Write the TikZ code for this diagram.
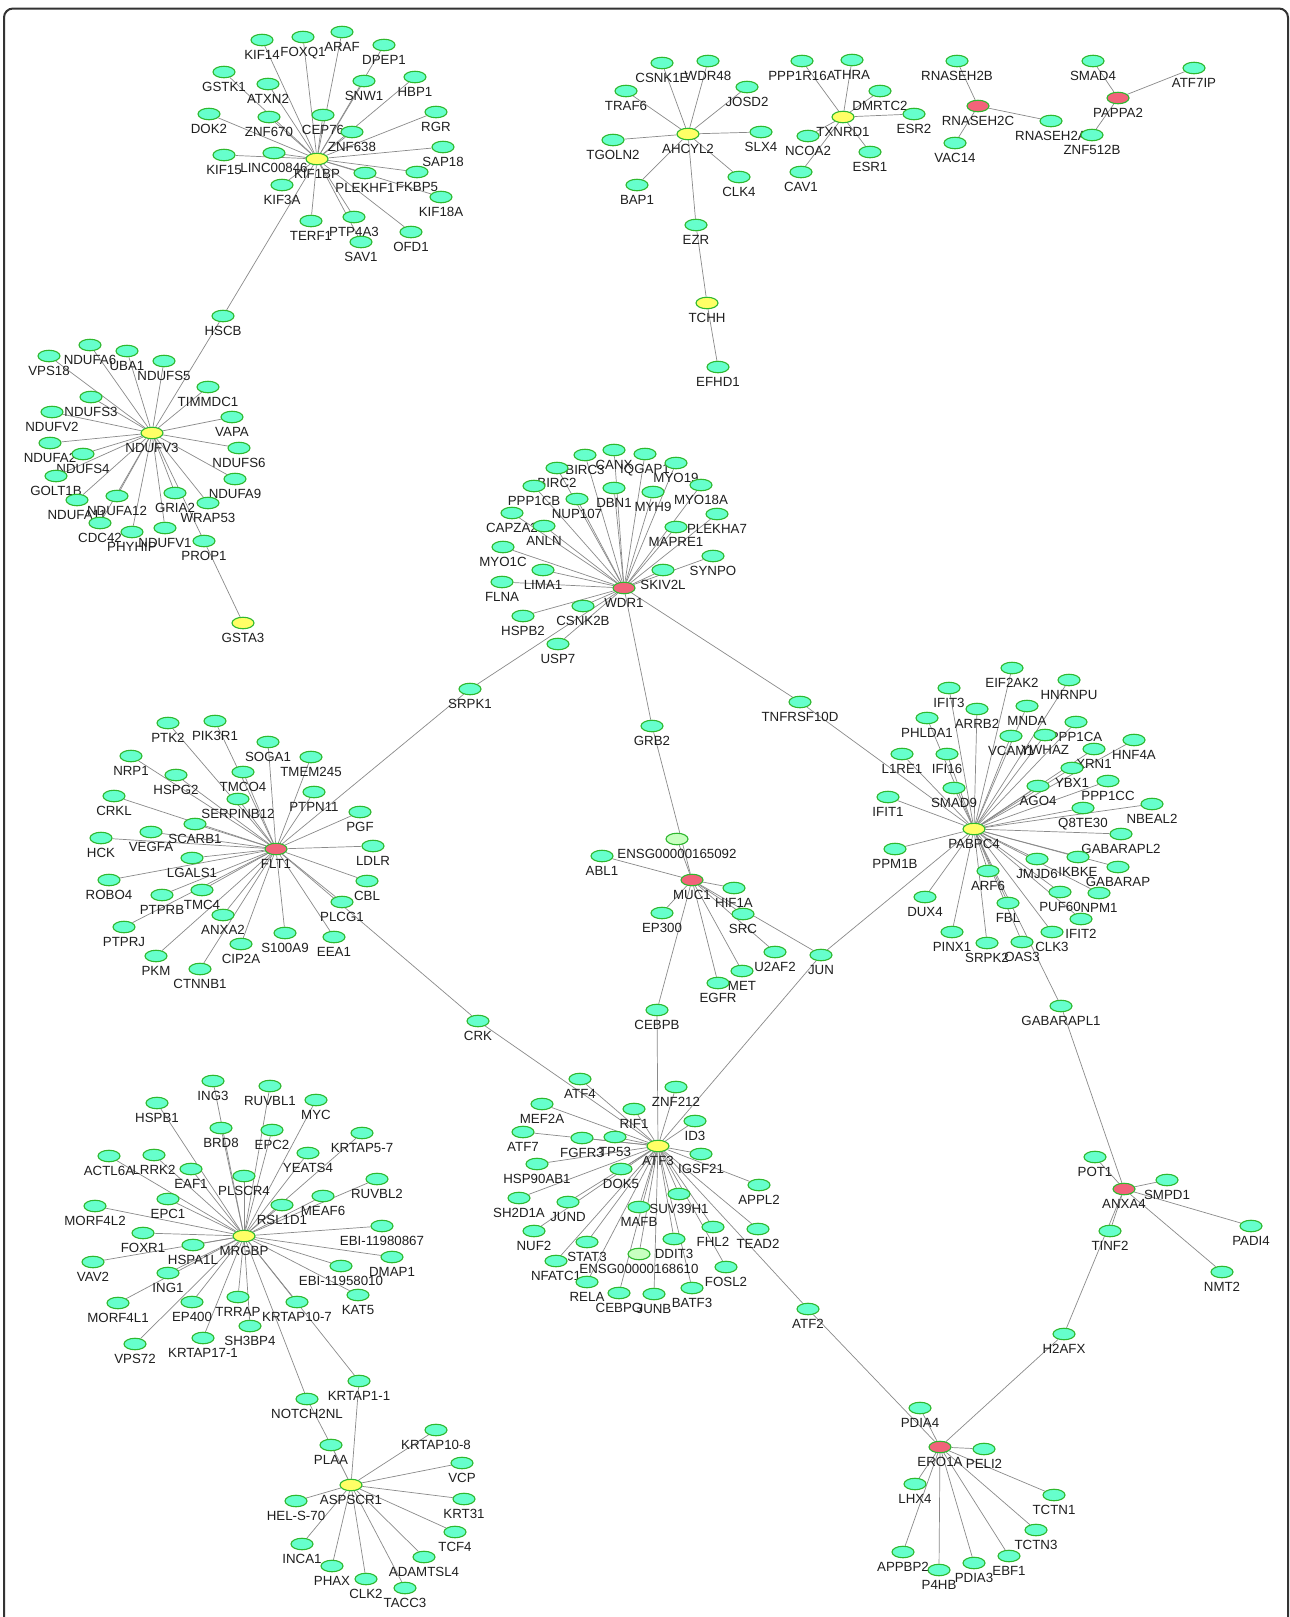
\documentclass[tikz,border=0pt]{standalone}
\usepackage{fontspec}
\setmainfont{Liberation Sans}
\usetikzlibrary{shapes.geometric}
\pgfdeclarelayer{bg}
\pgfsetlayers{bg,main}
\definecolor{gfill}{HTML}{66FFCC}
\definecolor{yfill}{HTML}{FFFF66}
\definecolor{rfill}{HTML}{F2637A}
\definecolor{lfill}{HTML}{C8FFC0}
\definecolor{nborder}{HTML}{2EB82E}
\definecolor{edgec}{HTML}{8A8A8A}
\tikzset{
  gnode/.style={ellipse, draw=nborder, fill=gfill, line width=1.1pt, minimum width=22pt, minimum height=11.5pt, inner sep=0pt},
  ynode/.style={gnode, fill=yfill},
  rnode/.style={gnode, fill=rfill},
  lnode/.style={gnode, fill=lfill},
  lbl/.style={anchor=base, inner sep=0pt, font=\fontsize{13.3}{15}\selectfont, text=black!88},
  edge/.style={draw=edgec, line width=0.7pt}
}
\newcommand{\gn}[4]{\node[#1] (#2) at (#3,#4) {}; \node[lbl] (#2-l) at (#3,#4+19.5) {#2};}
\begin{document}
\begin{tikzpicture}[x=1pt,y=-1pt]
\useasboundingbox (0,0) rectangle (1290,1617);

% hubs
\foreach \n/\x/\y in {KIF1BP/317/159, NDUFV3/152/433, GSTA3/243/623, AHCYL2/688/134, TCHH/707/303, TXNRD1/843/117, PABPC4/974/829, ATF3/658/1146, MRGBP/244/1236, ASPSCR1/351/1485}
  {\gn{ynode}{\n}{\x}{\y}}
\foreach \n/\x/\y in {RNASEH2C/978/106, PAPPA2/1118/98, WDR1/624/588, FLT1/276/849, MUC1/692/880, ANXA4/1124/1189, ERO1A/940/1447}
  {\gn{rnode}{\n}{\x}{\y}}
\foreach \n/\x/\y in {ENSG00000165092/677/839, ENSG00000168610/639/1254}
  {\gn{lnode}{\n}{\x}{\y}}

% KIF1BP cluster
\foreach \n/\x/\y in {KIF14/262/40, FOXQ1/303/37, ARAF/342/32, DPEP1/384/45, GSTK1/224/72, ATXN2/268/84, SNW1/364/81, HBP1/415/77, DOK2/209/114, ZNF670/269/117, CEP76/323/115, ZNF638/352/132, RGR/436/112, KIF15/224/155, LINC00846/274/153, SAP18/443/147, PLEKHF1/365/173, FKBP5/417/172, KIF18A/441/197, KIF3A/282/185, TERF1/311/221, PTP4A3/354/217, OFD1/411/232, SAV1/361/242, HSCB/223/316}
  {\gn{gnode}{\n}{\x}{\y}}
% NDUFV3 cluster
\foreach \n/\x/\y in {VPS18/49/356, NDUFA6/90/345, UBA1/127/351, NDUFS5/164/361, TIMMDC1/208/387, NDUFS3/91/397, NDUFV2/52/412, VAPA/232/417, NDUFA2/50/443, NDUFS4/83/454, NDUFS6/239/448, GOLT1B/56/476, NDUFA9/235/479, NDUFA11/77/500, NDUFA12/117/496, GRIA2/175/493, WRAP53/208/503, CDC42/100/523, PHYHIP/132/532, NDUFV1/165/528, PROP1/204/541}
  {\gn{gnode}{\n}{\x}{\y}}
% AHCYL2, TXNRD1, RNASEH2C, PAPPA2
\foreach \n/\x/\y in {CSNK1E/662/63, WDR48/708/61, JOSD2/747/87, TRAF6/626/91, TGOLN2/613/140, SLX4/761/132, BAP1/637/185, CLK4/739/177, EZR/696/225, EFHD1/718/367, PPP1R16A/802/61, THRA/852/60, DMRTC2/880/91, ESR2/914/114, NCOA2/808/136, ESR1/870/152, CAV1/801/172, RNASEH2B/957/61, VAC14/955/143, RNASEH2A/1051/121, SMAD4/1093/61, ATF7IP/1194/68, ZNF512B/1092/135}
  {\gn{gnode}{\n}{\x}{\y}}
% WDR1 cluster
\foreach \n/\x/\y in {CANX/614/450, BIRC3/585/455, IQGAP1/645/454, MYO19/676/463, BIRC2/557/468, MYO18A/701/485, PPP1CB/534/486, DBN1/614/488, MYH9/653/492, NUP107/577/499, PLEKHA7/717/514, CAPZA2/512/513, ANLN/544/526, MAPRE1/676/527, MYO1C/503/547, SYNPO/713/556, LIMA1/543/570, SKIV2L/663/570, FLNA/502/582, CSNK2B/583/606, HSPB2/523/616, USP7/558/644, SRPK1/470/689, GRB2/652/726, TNFRSF10D/800/702}
  {\gn{gnode}{\n}{\x}{\y}}
% FLT1 cluster
\foreach \n/\x/\y in {PTK2/168/723, PIK3R1/215/721, SOGA1/268/742, TMEM245/311/757, NRP1/131/756, HSPG2/176/775, TMCO4/243/772, PTPN11/314/792, CRKL/114/796, SERPINB12/238/799, PGF/360/812, SCARB1/195/824, HCK/101/838, VEGFA/151/832, LDLR/373/846, LGALS1/192/858, ROBO4/109/880, CBL/367/881, PTPRB/162/895, TMC4/202/890, PLCG1/342/902, ANXA2/223/915, PTPRJ/124/927, S100A9/285/933, EEA1/334/937, CIP2A/241/944, PKM/156/956, CTNNB1/200/969, CRK/478/1021}
  {\gn{gnode}{\n}{\x}{\y}}
% MUC1 cluster
\foreach \n/\x/\y in {ABL1/602/856, HIF1A/734/888, EP300/662/913, SRC/743/914, U2AF2/775/952, JUN/821/955, MET/742/971, EGFR/718/983, CEBPB/657/1010}
  {\gn{gnode}{\n}{\x}{\y}}
% PABPC4 cluster
\foreach \n/\x/\y in {EIF2AK2/1012/668, HNRNPU/1069/680, IFIT3/949/688, ARRB2/977/709, MNDA/1027/706, PHLDA1/927/718, PPP1CA/1076/722, VCAM1/1011/736, YWHAZ/1045/735, HNF4A/1134/740, XRN1/1094/749, L1RE1/902/754, IFI16/947/754, YBX1/1072/768, PPP1CC/1108/781, AGO4/1038/786, SMAD9/954/788, IFIT1/888/797, NBEAL2/1152/804, Q8TE30/1083/808, GABARAPL2/1121/834, PPM1B/895/849, IKBKE/1078/857, JMJD6/1037/859, GABARAP/1118/867, ARF6/988/871, DUX4/925/897, PUF60/1060/892, NPM1/1099/893, FBL/1008/903, IFIT2/1081/919, PINX1/952/932, CLK3/1052/932, SRPK2/987/943, OAS3/1022/942, GABARAPL1/1061/1006}
  {\gn{gnode}{\n}{\x}{\y}}
% ANXA4, ERO1A
\foreach \n/\x/\y in {POT1/1095/1157, SMPD1/1167/1180, PADI4/1251/1226, NMT2/1222/1272, TINF2/1110/1231, H2AFX/1064/1334, PDIA4/920/1408, PELI2/984/1449, LHX4/915/1484, TCTN1/1054/1495, TCTN3/1036/1530, APPBP2/903/1552, EBF1/1009/1556, PDIA3/974/1563, P4HB/939/1570}
  {\gn{gnode}{\n}{\x}{\y}}
% ATF3 cluster
\foreach \n/\x/\y in {ATF4/580/1079, ZNF212/676/1087, MEF2A/542/1104, RIF1/634/1109, ID3/695/1121, ATF7/523/1132, FGFR3/582/1138, TP53/615/1137, IGSF21/701/1154, HSP90AB1/537/1164, DOK5/621/1169, APPL2/759/1185, SH2D1A/519/1198, JUND/568/1202, SUV39H1/679/1194, MAFB/639/1207, NUF2/534/1231, STAT3/587/1242, FHL2/713/1227, TEAD2/758/1229, DDIT3/674/1239, NFATC1/556/1261, FOSL2/726/1267, RELA/587/1282, CEBPG/619/1293, JUNB/654/1294, BATF3/692/1288, ATF2/808/1309}
  {\gn{gnode}{\n}{\x}{\y}}
% MRGBP cluster
\foreach \n/\x/\y in {ING3/213/1081, RUVBL1/270/1086, MYC/316/1100, HSPB1/157/1103, BRD8/221/1128, EPC2/272/1130, KRTAP5-7/362/1133, YEATS4/308/1153, ACTL6A/109/1156, LRRK2/154/1155, EAF1/191/1169, PLSCR4/244/1176, RUVBL2/377/1179, MEAF6/323/1196, RSL1D1/282/1205, EPC1/168/1199, MORF4L2/95/1206, FOXR1/143/1233, HSPA1L/193/1245, VAV2/93/1262, ING1/168/1273, EBI-11980867/382/1226, DMAP1/392/1257, EBI-11958010/341/1266, KAT5/358/1295, MORF4L1/118/1303, EP400/192/1302, TRRAP/238/1297, KRTAP10-7/297/1302, SH3BP4/250/1326, KRTAP17-1/203/1338, VPS72/135/1344, KRTAP1-1/359/1381, NOTCH2NL/307/1399}
  {\gn{gnode}{\n}{\x}{\y}}
% ASPSCR1 cluster
\foreach \n/\x/\y in {PLAA/331/1445, KRTAP10-8/436/1430, VCP/462/1463, KRT31/464/1499, TCF4/455/1532, ADAMTSL4/424/1557, HEL-S-70/296/1501, INCA1/302/1544, PHAX/332/1566, CLK2/366/1579, TACC3/405/1588}
  {\gn{gnode}{\n}{\x}{\y}}

\begin{pgfonlayer}{bg}
\fill[white] (0,0) rectangle (1290,1617);
\draw[line width=2pt, draw=black!80, rounded corners=9pt] (4,1630) -- (4,8.5) -- (1288,8.5) -- (1288,1630);
\foreach \s in {KIF14,FOXQ1,ARAF,DPEP1,GSTK1,ATXN2,SNW1,HBP1,DOK2,ZNF670,CEP76,ZNF638,RGR,KIF15,LINC00846,SAP18,PLEKHF1,FKBP5,KIF18A,KIF3A,TERF1,PTP4A3,OFD1,SAV1,HSCB}
  {\draw[edge] (KIF1BP) -- (\s);}
\foreach \s in {HSCB,VPS18,NDUFA6,UBA1,NDUFS5,TIMMDC1,NDUFS3,NDUFV2,VAPA,NDUFA2,NDUFS4,NDUFS6,GOLT1B,NDUFA9,NDUFA11,NDUFA12,GRIA2,WRAP53,CDC42,PHYHIP,NDUFV1,PROP1}
  {\draw[edge] (NDUFV3) -- (\s);}
\draw[edge] (PROP1) -- (GSTA3);
\foreach \s in {CSNK1E,WDR48,JOSD2,TRAF6,TGOLN2,SLX4,BAP1,CLK4,EZR}
  {\draw[edge] (AHCYL2) -- (\s);}
\draw[edge] (EZR) -- (TCHH);
\draw[edge] (TCHH) -- (EFHD1);
\foreach \s in {PPP1R16A,THRA,DMRTC2,ESR2,NCOA2,ESR1,CAV1}
  {\draw[edge] (TXNRD1) -- (\s);}
\foreach \s in {RNASEH2B,VAC14,RNASEH2A}
  {\draw[edge] (RNASEH2C) -- (\s);}
\foreach \s in {SMAD4,ATF7IP,ZNF512B}
  {\draw[edge] (PAPPA2) -- (\s);}
\foreach \s in {CANX,BIRC3,IQGAP1,MYO19,BIRC2,MYO18A,PPP1CB,DBN1,MYH9,NUP107,PLEKHA7,CAPZA2,ANLN,MAPRE1,MYO1C,SYNPO,LIMA1,SKIV2L,FLNA,CSNK2B,HSPB2,USP7,SRPK1,GRB2,TNFRSF10D}
  {\draw[edge] (WDR1) -- (\s);}
\draw[edge] (SRPK1) -- (FLT1);
\draw[edge] (TNFRSF10D) -- (PABPC4);
\foreach \s in {PTK2,PIK3R1,SOGA1,TMEM245,NRP1,HSPG2,TMCO4,PTPN11,CRKL,SERPINB12,PGF,SCARB1,HCK,VEGFA,LDLR,LGALS1,ROBO4,CBL,PTPRB,TMC4,PLCG1,ANXA2,PTPRJ,S100A9,EEA1,CIP2A,PKM,CTNNB1,CRK}
  {\draw[edge] (FLT1) -- (\s);}
\draw[edge] (CRK) -- (ATF3);
\foreach \s in {ENSG00000165092,GRB2,ABL1,HIF1A,EP300,SRC,U2AF2,JUN,MET,EGFR,CEBPB}
  {\draw[edge] (MUC1) -- (\s);}
\draw[edge] (CEBPB) -- (ATF3);
\draw[edge] (JUN) -- (ATF3);
\draw[edge] (JUN) -- (PABPC4);
\foreach \s in {EIF2AK2,HNRNPU,IFIT3,ARRB2,MNDA,PHLDA1,PPP1CA,VCAM1,YWHAZ,HNF4A,XRN1,L1RE1,IFI16,YBX1,PPP1CC,AGO4,SMAD9,IFIT1,NBEAL2,Q8TE30,GABARAPL2,PPM1B,IKBKE,JMJD6,GABARAP,ARF6,DUX4,PUF60,NPM1,FBL,IFIT2,PINX1,CLK3,SRPK2,OAS3,GABARAPL1}
  {\draw[edge] (PABPC4) -- (\s);}
\draw[edge] (GABARAPL1) -- (ANXA4);
\foreach \s in {POT1,SMPD1,PADI4,NMT2,TINF2,H2AFX}
  {\draw[edge] (ANXA4) -- (\s);}
\foreach \s in {H2AFX,PDIA4,PELI2,LHX4,TCTN1,TCTN3,APPBP2,EBF1,PDIA3,P4HB,ATF2}
  {\draw[edge] (ERO1A) -- (\s);}
\foreach \s in {ATF4,ZNF212,MEF2A,RIF1,ID3,ATF7,FGFR3,TP53,IGSF21,HSP90AB1,DOK5,APPL2,SH2D1A,JUND,SUV39H1,MAFB,NUF2,STAT3,FHL2,TEAD2,DDIT3,ENSG00000168610,NFATC1,FOSL2,RELA,CEBPG,JUNB,BATF3,ATF2}
  {\draw[edge] (ATF3) -- (\s);}
\foreach \s in {ING3,RUVBL1,MYC,HSPB1,BRD8,EPC2,KRTAP5-7,YEATS4,ACTL6A,LRRK2,EAF1,PLSCR4,RUVBL2,MEAF6,RSL1D1,EPC1,MORF4L2,FOXR1,HSPA1L,VAV2,ING1,EBI-11980867,DMAP1,EBI-11958010,KAT5,MORF4L1,EP400,TRRAP,KRTAP10-7,SH3BP4,KRTAP17-1,VPS72,KRTAP1-1,NOTCH2NL}
  {\draw[edge] (MRGBP) -- (\s);}
\draw[edge] (NOTCH2NL) -- (PLAA);
\foreach \s in {PLAA,KRTAP1-1,KRTAP10-8,VCP,KRT31,TCF4,ADAMTSL4,HEL-S-70,INCA1,PHAX,CLK2,TACC3}
  {\draw[edge] (ASPSCR1) -- (\s);}
\end{pgfonlayer}
\end{tikzpicture}
\end{document}
